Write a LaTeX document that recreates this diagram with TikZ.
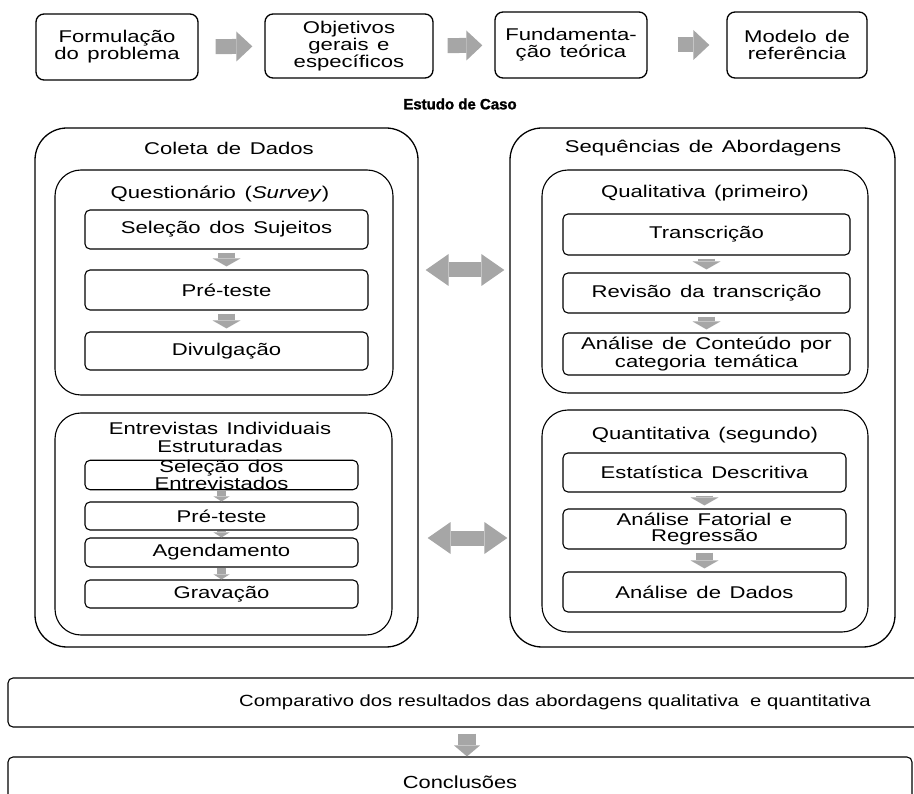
\documentclass[tikz,border=0pt]{standalone}
\usepackage{fontspec}
\setmainfont{Liberation Sans}[FakeStretch=1.3, WordSpace=1.4]
\newfontfamily\casefont{Liberation Sans}[BoldFeatures={FakeBold=1.5}]
\newfontfamily\widefont{Liberation Sans}[FakeStretch=1.25]
\usetikzlibrary{arrows.meta}
\definecolor{arrowgray}{RGB}{166,166,166}

\begin{document}
\begin{tikzpicture}[x=1pt, y=-1pt,
    topbox/.style={draw, line width=1.3pt, rounded corners=8pt, align=center, inner sep=0pt, font=\fontsize{17}{17}\selectfont},
    outerbox/.style={draw, line width=1.3pt, rounded corners=32pt, inner sep=0pt},
    groupbox/.style={draw, line width=1.1pt, rounded corners=26pt, inner sep=0pt},
    stepbox/.style={draw, fill=white, line width=1.1pt, rounded corners=5pt, align=center, inner sep=0pt, font=\fontsize{17}{16}\selectfont},
    heading/.style={align=center, font=\fontsize{17}{18}\selectfont},
    fatarrow/.style={draw=arrowgray, line width=15pt, -{Triangle[width=30pt, length=16pt, line width=0pt]}},
    dblarrow/.style={draw=arrowgray, line width=15pt, {Triangle[width=32pt, length=23pt, line width=0pt]}-{Triangle[width=32pt, length=23pt, line width=0pt]}},
    smallarrow/.style={draw=arrowgray, line width=17pt, -{Triangle[width=28pt, length=8pt, line width=0pt]}, shorten <=3pt, shorten >=3pt},
    tinyarrow/.style={draw=arrowgray, line width=9pt, -{Triangle[width=16pt, length=5pt, line width=0pt]}}
]
\useasboundingbox (0,0) rectangle (914,794);
\clip (0,0) rectangle (914,794);

% Research steps
\node[topbox, minimum width=162pt, minimum height=66pt] (form) at (117,47) {Formulação\\do problema};
\node[topbox, minimum width=168pt, minimum height=64pt] (obj) at (349,46) {Objetivos\\gerais e\\específicos};
\node[topbox, minimum width=152pt, minimum height=66pt] (fund) at (571,45) {Fundamenta-\\ção teórica};
\node[topbox, minimum width=140pt, minimum height=66pt] (mod) at (797,45) {Modelo de\\referência};

\draw[fatarrow, shorten <=17pt, shorten >=12pt] (form) -- (obj);
\draw[fatarrow, shorten <=14pt, shorten >=12pt] (obj) -- (fund);
\draw[fatarrow, shorten <=30pt, shorten >=17pt] (fund) -- (mod);

\node[font=\casefont\bfseries\fontsize{15}{15}\selectfont] (caso) at (460,104) {Estudo de Caso};

% Data collection
\node[outerbox, minimum width=383pt, minimum height=519pt] (coleta) at (226.5,387.5) {};
\node[heading] (coletatitle) at (229,148) {Coleta de Dados};

\node[groupbox, minimum width=338pt, minimum height=225pt] (qst) at (224,282.5) {};
\node[heading] (qsttitle) at (220,194) {Questionário (\textit{Survey})};
\node[stepbox, minimum width=283pt, minimum height=39pt] (sel) at (226.5,229.5) {Seleção dos Sujeitos};
\node[stepbox, minimum width=283pt, minimum height=40pt] (pre) at (226.5,290) {Pré-teste};
\node[stepbox, minimum width=283pt, minimum height=38pt] (div) at (226.5,351) {Divulgação};
\draw[smallarrow] (sel) -- (pre);
\draw[smallarrow] (pre) -- (div);

\node[groupbox, minimum width=337pt, minimum height=222pt] (ent) at (223.5,524) {};
\node[heading] (enttitle) at (220,437) {Entrevistas Individuais\\Estruturadas};
\node[stepbox, minimum width=273pt, minimum height=28pt, font=\fontsize{17}{14}\selectfont] (selent) at (221.5,475) {Seleção dos\\Entrevistados};
\node[stepbox, minimum width=273pt, minimum height=28pt] (preent) at (221.5,516) {Pré-teste};
\node[stepbox, minimum width=273pt, minimum height=29pt] (agend) at (221.5,552.5) {Agendamento};
\node[stepbox, minimum width=273pt, minimum height=28pt] (grav) at (221.5,594) {Gravação};
\draw[tinyarrow] (selent) -- (preent);
\draw[tinyarrow] (preent) -- (agend);
\draw[tinyarrow] (agend) -- (grav);

% Approaches
\node[outerbox, minimum width=385pt, minimum height=519pt] (seq) at (702.5,387.5) {};
\node[heading] (seqtitle) at (703,148) {Sequências de Abordagens};

\node[groupbox, minimum width=326pt, minimum height=223pt] (qual) at (705,281.5) {};
\node[heading] (qualtitle) at (705,193) {Qualitativa (primeiro)};
\node[stepbox, minimum width=287pt, minimum height=41pt] (transc) at (706.5,234.5) {Transcrição};
\node[stepbox, minimum width=287pt, minimum height=40pt] (rev) at (706.5,293) {Revisão da transcrição};
\node[stepbox, minimum width=287pt, minimum height=42pt] (anal) at (706.5,354) {Análise de Conteúdo por\\categoria temática};
\draw[smallarrow] (transc) -- (rev);
\draw[smallarrow] (rev) -- (anal);

\node[groupbox, minimum width=326pt, minimum height=222pt] (quant) at (705,521) {};
\node[heading] (quanttitle) at (705,435) {Quantitativa (segundo)};
\node[stepbox, minimum width=283pt, minimum height=39pt] (estat) at (704.5,472.5) {Estatística Descritiva};
\node[stepbox, minimum width=283pt, minimum height=40pt] (fator) at (704.5,529) {Análise Fatorial e\\Regressão};
\node[stepbox, minimum width=283pt, minimum height=40pt] (dados) at (704.5,592) {Análise de Dados};
\draw[smallarrow] (estat) -- (fator);
\draw[smallarrow] (fator) -- (dados);

% Links between the two blocks
\coordinate (lvlA) at (0,270);
\coordinate (lvlB) at (0,538);
\draw[dblarrow, shorten <=7pt, shorten >=5pt] (coleta.east |- lvlA) -- (seq.west |- lvlA);
\draw[dblarrow, shorten <=9pt, shorten >=2pt] (coleta.east |- lvlB) -- (seq.west |- lvlB);

% Results
\node[stepbox, minimum width=1094pt, minimum height=49pt, font=\widefont\fontsize{16.2}{16}\selectfont] (comp) at (555,702.5) {Comparativo dos resultados das abordagens qualitativa\ \ e quantitativa};
\node[stepbox, minimum width=904pt, minimum height=50pt, font=\widefont\fontsize{17.5}{16}\selectfont] (concl) at (460,782) {Conclusões};
\draw[draw=arrowgray, line width=18pt, -{Triangle[width=26pt, length=11pt, line width=0pt]}, shorten <=6pt] ([xshift=7pt]comp.south -| concl.north) -- ([xshift=7pt]concl.north);

\end{tikzpicture}
\end{document}
